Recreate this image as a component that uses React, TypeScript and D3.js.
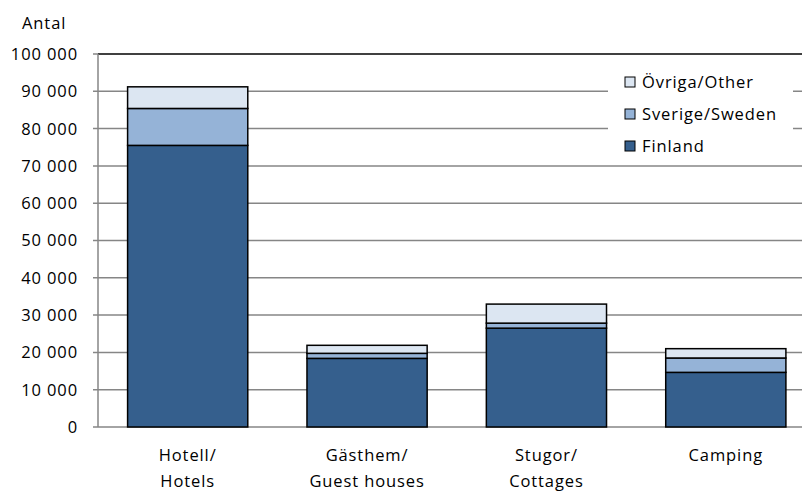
import React from "react";
import * as d3 from "d3";

const categories = [["Hotell/", "Hotels"], ["Gästhem/", "Guest houses"], ["Stugor/", "Cottages"], ["Camping"]];
const seriesNames = ["Finland", "Sverige/Sweden", "Övriga/Other"];
const finland = [75500, 18400, 26500, 14650];
const sweden = [9900, 1350, 1350, 3850];
const other = [5800, 2150, 5100, 2500];
const yTicks = [0, 10000, 20000, 30000, 40000, 50000, 60000, 70000, 80000, 90000, 100000];
const colors = ["#355F8D", "#95B3D7", "#DCE6F2"];

const W = 807;
const H = 492;
const FONT = "'Open Sans', sans-serif";

export default function App() {
  const keys = categories.map((c) => c.join(" "));
  const x = d3.scaleBand<string>().domain(keys).range([98, 815.5]).paddingInner(0.33).paddingOuter(0.165);
  const y = d3.scaleLinear().domain([0, 100000]).range([427, 54]);
  const loc = d3.formatLocale({ thousands: " ", grouping: [3], decimal: ",", currency: ["", ""] });
  const fmt = loc.format(",d");
  const plotRight = 802;

  const rows = keys.map((k, i) => ({ key: k, Finland: finland[i], "Sverige/Sweden": sweden[i], "Övriga/Other": other[i] }));
  const stack = d3.stack<any>().keys(seriesNames)(rows);

  const legendItems = [2, 1, 0];

  return (
    <svg width={W} height={H} style={{ position: "absolute", left: 0, top: 0, background: "#fff" }} fontFamily={FONT}>
      <rect x={0} y={0} width={W} height={H} fill="#fff" />
      {yTicks.map((t) => (
        <line key={t} x1={93} x2={t === 100000 ? 98 : plotRight} y1={y(t)} y2={y(t)} stroke="#868686" strokeWidth={1.5} />
      ))}
      <line x1={98} x2={plotRight} y1={y(100000)} y2={y(100000)} stroke="#000" strokeWidth={1.5} />
      <line x1={98} x2={98} y1={y(100000)} y2={y(0)} stroke="#868686" strokeWidth={1.5} />
      <rect x={608} y={62} width={185} height={98} fill="#fff" />
      {stack.map((s, si) =>
        s.map((d, i) => (
          <rect
            key={si + "-" + i}
            x={x(keys[i])!}
            width={x.bandwidth()}
            y={y(d[1])}
            height={y(d[0]) - y(d[1])}
            fill={colors[si]}
            stroke="#000"
            strokeWidth={1.5}
          />
        ))
      )}
      {yTicks.map((t) => (
        <text key={t} x={78} y={y(t)} dy="0.36em" textAnchor="end" fontSize={16.5} letterSpacing={0.9} fill="#000">
          {fmt(t)}
        </text>
      ))}
      <text x={22} y={23} dy="0.36em" fontSize={16.5} letterSpacing={0.9} fill="#000">Antal</text>
      {categories.map((c, i) => (
        <text key={i} textAnchor="middle" fontSize={16.5} letterSpacing={0.9} fill="#000">
          {c.map((line, li) => (
            <tspan key={li} x={x(keys[i])! + x.bandwidth() / 2} y={455 + li * 26} dy="0.36em">
              {line}
            </tspan>
          ))}
        </text>
      ))}
      {legendItems.map((si, j) => (
        <g key={si} transform={`translate(625, ${82 + j * 32})`}>
          <rect x={0} y={-5} width={10} height={10} fill={colors[si]} stroke="#000" strokeWidth={1} />
          <text x={17} y={0} dy="0.36em" fontSize={16.5} letterSpacing={0.9} fill="#000">
            {seriesNames[si]}
          </text>
        </g>
      ))}
    </svg>
  );
}
